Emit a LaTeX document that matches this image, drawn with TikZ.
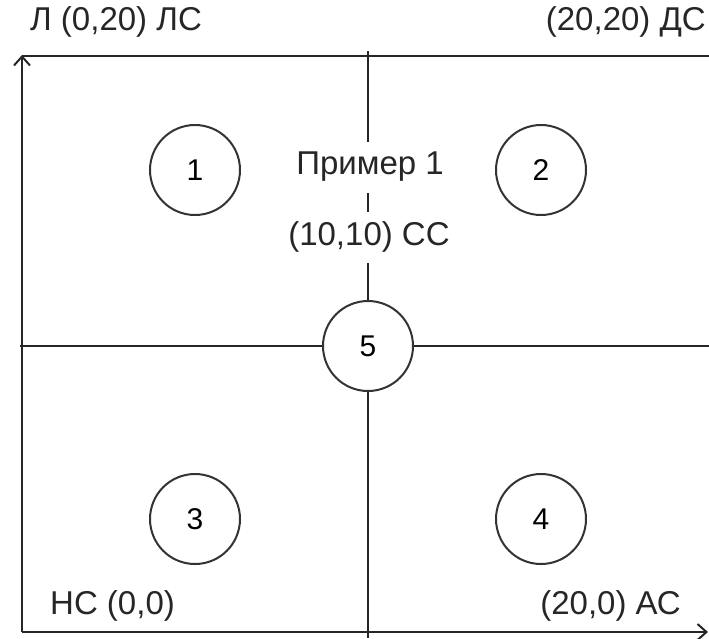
\documentclass[tikz,border=0pt]{standalone}
\usepackage{fontspec}
\setmainfont{Liberation Sans}
\usetikzlibrary{arrows.meta}
\begin{document}
\begin{tikzpicture}[x=1pt,y=-1pt,
  ln/.style={line width=2pt, draw=black!85},
  num/.style={circle, draw=black!80, line width=2pt, minimum size=90pt, inner sep=0pt, font=\fontsize{30}{32}\selectfont},
  lbl/.style={font=\fontsize{33}{36}\selectfont, inner sep=0pt, text=black!85},
  mid/.style={lbl, fill=white, minimum height=51pt},
  tip/.style={-{Straight Barb[length=9pt,width=16pt]}}]
\useasboundingbox (0,0) rectangle (709,638);
% frame
\coordinate (bl) at (22,632);
\coordinate (tl) at (22,55);
\coordinate (tr) at (709,56);
\coordinate (br) at (708,632);
\coordinate (ml) at (20,346);
\coordinate (mr) at (709,346);
\coordinate (mt) at (368,51);
\coordinate (mb) at (368,638);
\node[num] (c5) at (368,346) {5};
\node[num] (c1) at (195,170) {1};
\node[num] (c2) at (541,170) {2};
\node[num] (c3) at (195,519) {3};
\node[num] (c4) at (541,519) {4};
\draw[ln] (22,56) -- (tr);
\draw[ln, tip] (bl) -- (tl);
\draw[ln, tip] (bl) -- (br);
\draw[ln] (ml) -- (c5.west);
\draw[ln] (c5.east) -- (mr);
\draw[ln] (mt) -- (c5.north);
\draw[ln] (c5.south) -- (mb);
\node[mid] (p1) at (370,167) {Пример 1};
\node[mid] (cc) at (369,237) {(10,10) СС};
\node[lbl, anchor=west] (lc) at (30,22) {Л (0,20) ЛС};
\node[lbl, anchor=east] (dc) at (706,22) {(20,20) ДС};
\node[lbl, anchor=west] (nc) at (50,606) {НС (0,0)};
\node[lbl, anchor=east] (ac) at (681,606) {(20,0) АС};
\end{tikzpicture}
\end{document}
